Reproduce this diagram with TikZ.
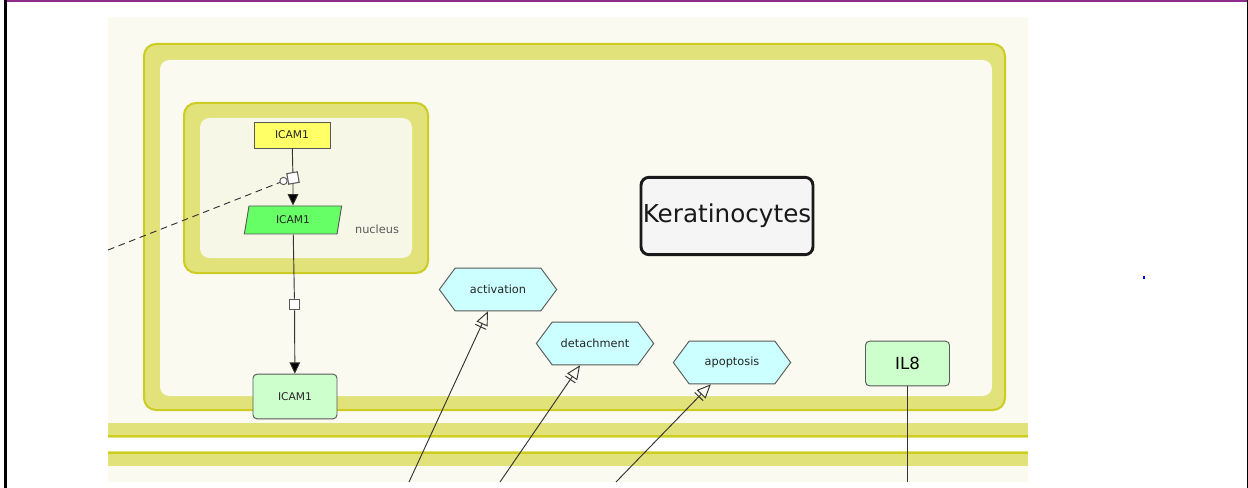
\documentclass[tikz,border=0pt]{standalone}
\usepackage{fontspec}
\setmainfont{DejaVu Sans}
\usetikzlibrary{shapes.geometric,shapes.symbols,arrows.meta}

\definecolor{cream}{HTML}{FAFAF0}
\definecolor{nucfill}{HTML}{F7F7E8}
\definecolor{bandfill}{HTML}{E2E27A}
\definecolor{bandline}{HTML}{CCCC22}
\definecolor{framepurple}{HTML}{8E2A8A}
\definecolor{rnafill}{HTML}{FFFF66}
\definecolor{genefill}{HTML}{66FF66}
\definecolor{protfill}{HTML}{CCFFCC}
\definecolor{phenofill}{HTML}{CCFFFF}
\definecolor{edgegray}{HTML}{333333}

\begin{document}
\begin{tikzpicture}[x=0.75pt,y=-0.75pt,
	species/.style={draw=black!65,line width=0.7pt,text=black!85,inner sep=0pt,font=\fontsize{8}{9}\selectfont},
	protein/.style={species,rectangle,rounded corners=3pt,fill=protfill,minimum width=63pt,minimum height=33.5pt},
	pheno/.style={species,signal,signal to=west and east,signal pointer angle=107,fill=phenofill,minimum width=88pt,minimum height=32pt,font=\fontsize{8.5}{10}\selectfont},
	procbox/.style={draw=black!65,fill=white,line width=0.8pt,rectangle,minimum size=8pt,inner sep=0pt},
	link/.style={draw=edgegray,line width=0.7pt},
	stim/.style={link,-{Bar[width=9pt,sep=2pt]Triangle[open,length=10.5pt,width=9pt]}},
	trans/.style={link,-{Triangle[length=8.5pt,width=8pt,fill=black]}}]

	\useasboundingbox (0,0) rectangle (1248,488);

	% frame and background
	\fill[cream] (108,17) rectangle (1028,482);
	\fill[framepurple] (6,0) rectangle (1248,2.5);
	\fill[black] (3.5,0) rectangle (6.5,488);
	\fill[black] (1246.7,0) rectangle (1248,488);
	\fill[blue] (1143,276) rectangle (1145,278.5);

	% membrane
	\fill[bandfill] (108,423) rectangle (1028,438);
	\draw[bandline,line width=1.5pt] (108,436) -- (1028,436);
	\fill[white] (108,438) rectangle (1028,451);
	\fill[bandfill] (108,451) rectangle (1028,466);
	\draw[bandline,line width=1.5pt] (108,452.5) -- (1028,452.5);

	% cell and nucleus
	\draw[bandline,fill=bandfill,line width=1.5pt,rounded corners=9pt] (144,44) rectangle (1005,410);
	\fill[cream,rounded corners=7pt] (160,60) rectangle (992,396);
	\draw[bandline,fill=bandfill,line width=1.5pt,rounded corners=9pt] (184,103) rectangle (428,273);
	\fill[nucfill,rounded corners=7pt] (200,118) rectangle (412,258);
	\node[text=black!65,font=\fontsize{8.5}{10}\selectfont] (nucLbl) at (377,229) {nucleus};

	% species
	\node[species,rectangle,fill=rnafill,minimum width=57pt,minimum height=19.5pt] (icamR) at (292,135) {ICAM1};
	\node[species,trapezium,trapezium left angle=60,trapezium right angle=120,fill=genefill,minimum width=73pt,minimum height=21pt,trapezium stretches body] (icamG) at (293,220) {ICAM1};
	\node[protein] (icamP) at (295,396.5) {ICAM1};
	\node[protein,font=\fontsize{12.5}{14}\selectfont,text=black] (il8) at (907.5,363.5) {IL8};
	\node[draw=black!90,line width=2.2pt,fill=black!4,rounded corners=6pt,minimum width=129pt,minimum height=58pt,inner sep=0pt,font=\fontsize{18.5}{22}\selectfont,text=black!90] (kerat) at (727,216) {Keratinocytes};

	\node[pheno] (act) at (498,289.5) {activation};
	\node[pheno] (det) at (595,343.5) {detachment};
	\node[pheno] (apo) at (732,362.5) {apoptosis};

	% reactions
	\node[procbox,rotate=10] (procA) at (293,178) {};
	\node[draw=black!65,fill=white,line width=0.7pt,circle,minimum size=5.5pt,inner sep=0pt] (modA) at (283.5,181) {};
	\node[procbox] (procB) at (294.5,304.5) {};

	\coordinate (dashEnd) at (108,250);
	\coordinate (actSrc) at (409,482);
	\coordinate (detSrc) at (500,482);
	\coordinate (apoSrc) at (616,482);
	\coordinate (il8Out) at (907.5,482);

	\draw[link] (icamR) -- (procA);
	\draw[trans] (procA) -- (icamG);
	\draw[link,dash pattern=on 5pt off 3.5pt] (dashEnd) -- (modA);
	\draw[link] (icamG) -- (procB);
	\draw[trans] (procB) -- (icamP);

	\draw[stim] (actSrc) -- (act);
	\draw[stim] (detSrc) -- (det);
	\draw[stim] (apoSrc) -- (apo);
	\draw[link] (il8) -- (il8Out);
\end{tikzpicture}
\end{document}
